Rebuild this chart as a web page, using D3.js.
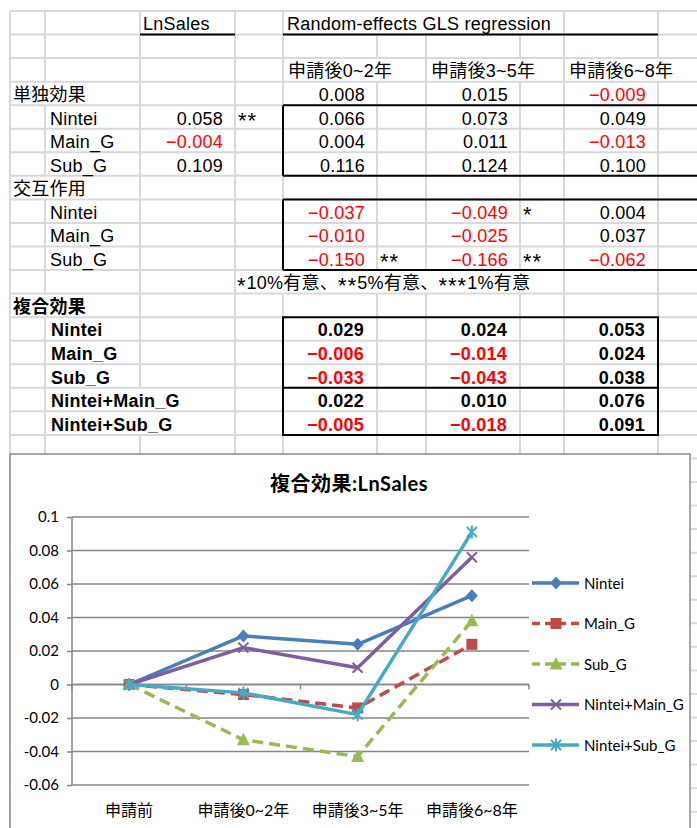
<!DOCTYPE html>
<html>
<head>
<meta charset="utf-8">
<script src="https://cdn.jsdelivr.net/npm/d3@7"></script>
<style>
  html, body { margin: 0; padding: 0; background: #fff; }
  svg { display: block; }
</style>
</head>
<body>
<svg id="sheet" width="697" height="828"></svg>
<script>
// ---------- values ----------
const periods = ["申請後0~2年", "申請後3~5年", "申請後6~8年"];
const chartCategories = ["申請前", ...periods];
const effectLabels = ["Nintei", "Main_G", "Sub_G"];
const lnSalesValues = [0.058, -0.004, 0.109];
const lnSalesStars = ["**", "", ""];
const baseValues = [0.008, 0.015, -0.009];
const singleValues = [
  [0.066, 0.073, 0.049],
  [0.004, 0.011, -0.013],
  [0.116, 0.124, 0.100]
];
const interactionValues = [
  [-0.037, -0.049, 0.004],
  [-0.010, -0.025, 0.037],
  [-0.150, -0.166, -0.062]
];
const interactionStars = [
  ["", "*", ""],
  ["", "", ""],
  ["**", "**", ""]
];
const compositeLabels = ["Nintei", "Main_G", "Sub_G", "Nintei+Main_G", "Nintei+Sub_G"];
const compositeValues = [
  [0.029, 0.024, 0.053],
  [-0.006, -0.014, 0.024],
  [-0.033, -0.043, 0.038],
  [0.022, 0.010, 0.076],
  [-0.005, -0.018, 0.091]
];
const beforeValue = 0;           // value at 申請前 for every series
const yTicks = [-0.06, -0.04, -0.02, 0, 0.02, 0.04, 0.06, 0.08, 0.1];
const noteText = "*10%有意、**5%有意、***1%有意";
const chartTitle = "複合効果:LnSales";

// ---------- sheet layout ----------
const W = 697, H = 828;
const colX = [10, 45, 140, 235, 283, 377, 426, 520, 564, 658, 760];
const rowTop0 = 11, rowH = 23.55, nRows = 36;
const rowY = i => rowTop0 + i * rowH;
const valueCols = [4, 6, 8];   // E, G, I
const starCols = [5, 7, 9];    // F, H, J

const svg = d3.select("#sheet");
svg.append("rect").attr("width", W).attr("height", H).attr("fill", "#fff");

const gridLayer = svg.append("g");
const textLayer = svg.append("g")
  .style("font-family", "'Liberation Sans', 'Noto Sans CJK JP', sans-serif")
  .style("font-size", "18px")
  .style("letter-spacing", "0.25px");
const borderLayer = svg.append("g");

const fmt = d3.format(".3f");
const valColor = v => v < 0 ? "#ff0000" : "#000000";
const leftTexts = []; // {row, node} for overflow handling

// asterisks sit mid-height in the sheet font, so runs of "*" are set lower and larger
function fillWithStars(t, str) {
  let shifted = false;
  str.split(/(\*+)/).forEach(p => {
    if (!p) return;
    const isStar = p[0] === "*";
    const ts = t.append("tspan").text(p);
    if (isStar && !shifted) { ts.attr("dy", 3.5); shifted = true; }
    else if (!isStar && shifted) { ts.attr("dy", -3.5); shifted = false; }
    if (isStar) ts.style("font-size", "22px").style("letter-spacing", "1px");
  });
}

function leftText(row, col, text, opts = {}) {
  const t = textLayer.append("text")
    .attr("x", colX[col] + (opts.pad ?? 4))
    .attr("y", rowY(row) + 19.3)
    .attr("fill", opts.color || "#000")
    .attr("font-weight", opts.bold ? "bold" : null);
  if (text.includes("*")) fillWithStars(t, text); else t.text(text);
  leftTexts.push({ row, node: t.node() });
  return t;
}
function numText(row, col, v, bold) {
  textLayer.append("text")
    .attr("x", colX[col + 1] - (bold ? 13 : 12))
    .attr("y", rowY(row) + 19.3)
    .attr("text-anchor", "end")
    .attr("fill", valColor(v))
    .attr("font-weight", bold ? "bold" : null)
    .text(fmt(v));
}

// row 0: titles
leftText(0, 2, "LnSales", { pad: 3 });
leftText(0, 4, "Random-effects GLS regression");
// row 2: period headers
periods.forEach((p, j) => leftText(2, valueCols[j], p, { pad: 5 }));
// row 3: 単独効果
leftText(3, 0, "単独効果", { pad: 3 });
baseValues.forEach((v, j) => numText(3, valueCols[j], v));
// rows 4-6
effectLabels.forEach((lab, i) => {
  const r = 4 + i;
  leftText(r, 1, lab, { pad: 5 });
  numText(r, 2, lnSalesValues[i]);
  if (lnSalesStars[i]) leftText(r, 3, lnSalesStars[i], { pad: 3 });
  singleValues[i].forEach((v, j) => numText(r, valueCols[j], v));
});
// row 7: 交互作用
leftText(7, 0, "交互作用", { pad: 3 });
// rows 8-10
effectLabels.forEach((lab, i) => {
  const r = 8 + i;
  leftText(r, 1, lab, { pad: 5 });
  interactionValues[i].forEach((v, j) => {
    numText(r, valueCols[j], v);
    if (interactionStars[i][j]) leftText(r, starCols[j], interactionStars[i][j], { pad: 3 });
  });
});
// row 11: significance note
leftText(11, 3, noteText, { pad: 2 });
// row 12: 複合効果
leftText(12, 0, "複合効果", { pad: 3, bold: true });
// rows 13-17
compositeLabels.forEach((lab, i) => {
  const r = 13 + i;
  leftText(r, 1, lab, { pad: 6, bold: true });
  compositeValues[i].forEach((v, j) => numText(r, valueCols[j], v, true));
});

// overflowing text hides the vertical gridlines it passes over
const hidden = new Set();
leftTexts.forEach(({ row, node }) => {
  const b = node.getBBox();
  colX.forEach((x, ci) => {
    if (x > b.x + 1 && x < b.x + b.width - 1) hidden.add(row + ":" + ci);
  });
});

// gridlines
const gridColor = "#d9d9d9";
for (let r = 0; r <= nRows; r++) {
  gridLayer.append("line")
    .attr("x1", colX[0]).attr("x2", W)
    .attr("y1", rowY(r)).attr("y2", rowY(r))
    .attr("stroke", gridColor).attr("stroke-width", 2);
}
for (let r = 0; r < nRows; r++) {
  colX.forEach((x, ci) => {
    if (hidden.has(r + ":" + ci)) return;
    gridLayer.append("line")
      .attr("x1", x).attr("x2", x)
      .attr("y1", rowY(r)).attr("y2", rowY(r + 1))
      .attr("stroke", gridColor).attr("stroke-width", 2);
  });
}

// cell borders
function bline(x1, y1, x2, y2) {
  borderLayer.append("line")
    .attr("x1", x1).attr("y1", y1).attr("x2", x2).attr("y2", y2)
    .attr("stroke", "#000").attr("stroke-width", 2);
}
bline(colX[2], rowY(1), colX[3], rowY(1));
bline(colX[4], rowY(1), colX[9], rowY(1));
// single-effect block
bline(colX[4], rowY(4), W, rowY(4));
bline(colX[4], rowY(7), W, rowY(7));
bline(colX[4], rowY(4), colX[4], rowY(7));
// interaction block
bline(colX[4], rowY(8), W, rowY(8));
bline(colX[4], rowY(11), W, rowY(11));
bline(colX[4], rowY(8), colX[4], rowY(11));
// composite block
bline(colX[4] - 1, rowY(13), colX[9] + 1, rowY(13));
bline(colX[4] - 1, rowY(18), colX[9] + 1, rowY(18));
bline(colX[4], rowY(16), colX[9], rowY(16));
bline(colX[4], rowY(13), colX[4], rowY(18));
bline(colX[9], rowY(13), colX[9], rowY(18));

// ---------- embedded chart ----------
const chart = svg.append("g")
  .style("font-family", "Lato, 'Noto Sans CJK JP', sans-serif");
chart.append("rect")
  .attr("x", 10).attr("y", 454).attr("width", 680).attr("height", 400)
  .attr("fill", "#fff").attr("stroke", "#8c8c8c").attr("stroke-width", 1.5);

chart.append("text")
  .attr("x", 349).attr("y", 491)
  .attr("text-anchor", "middle")
  .attr("font-size", 20).attr("font-weight", "bold")
  .style("letter-spacing", "0.5px")
  .text(chartTitle);

const plot = { left: 72, right: 529, top: 517, bottom: 785 };
const x = d3.scalePoint().domain(chartCategories).range([plot.left, plot.right]).padding(0.5);
const y = d3.scaleLinear().domain([-0.06, 0.1]).range([plot.bottom, plot.top]);
const axisColor = "#868686";

// horizontal gridlines
chart.append("g").selectAll("line").data(yTicks).join("line")
  .attr("x1", plot.left).attr("x2", plot.right)
  .attr("y1", d => y(d)).attr("y2", d => y(d))
  .attr("stroke", axisColor).attr("stroke-width", 1.5);

// value axis
const yAxis = chart.append("g")
  .attr("transform", `translate(${plot.left},0)`)
  .call(d3.axisLeft(y).tickValues(yTicks).tickSize(5).tickPadding(8).tickFormat(d => String(d)));
yAxis.select(".domain").attr("stroke", axisColor).attr("stroke-width", 1.5)
  .attr("d", `M0,${plot.top}V${plot.bottom}`);
yAxis.selectAll(".tick line").attr("stroke", axisColor).attr("stroke-width", 1.5);
yAxis.selectAll(".tick text")
  .attr("font-size", 15).attr("font-family", "Lato, sans-serif").attr("fill", "#000");

// category axis at zero
const zeroY = y(0);
chart.append("line")
  .attr("x1", plot.left).attr("x2", plot.right)
  .attr("y1", zeroY).attr("y2", zeroY)
  .attr("stroke", axisColor).attr("stroke-width", 1.5);
const step = x.step();
d3.range(chartCategories.length + 1).forEach(i => {
  const tx = plot.left + i * step;
  chart.append("line")
    .attr("x1", tx).attr("x2", tx).attr("y1", zeroY).attr("y2", zeroY + 5)
    .attr("stroke", axisColor).attr("stroke-width", 1.5);
});
chart.append("g").selectAll("text").data(chartCategories).join("text")
  .attr("x", d => x(d)).attr("y", 816)
  .attr("text-anchor", "middle").attr("font-size", 16)
  .text(d => d);

// series styling
const seriesStyles = [
  { color: "#4a7ebb", dash: null, marker: "diamond" },
  { color: "#be4b48", dash: "11,6", marker: "square" },
  { color: "#98b954", dash: "11,6", marker: "triangle" },
  { color: "#7d5fa0", dash: null, marker: "x" },
  { color: "#46aac5", dash: null, marker: "star" }
];

function drawMarker(g, kind, color, cx, cy) {
  const m = g.append("g").attr("transform", `translate(${cx},${cy})`);
  if (kind === "diamond") {
    m.append("path").attr("d", "M0,-6.5L6,0L0,6.5L-6,0Z").attr("fill", color);
  } else if (kind === "square") {
    m.append("rect").attr("x", -5.5).attr("y", -5.5).attr("width", 11).attr("height", 11).attr("fill", color);
  } else if (kind === "triangle") {
    m.append("path").attr("d", "M0,-7L6.5,5.5L-6.5,5.5Z").attr("fill", color);
  } else if (kind === "x" || kind === "star") {
    let d = "M-5,-5L5,5M5,-5L-5,5";
    if (kind === "star") d += "M0,-6.5L0,6.5";
    m.append("path").attr("d", d).attr("stroke", color).attr("stroke-width", 2).attr("fill", "none");
  }
}

const line = d3.line().x(d => x(d.cat)).y(d => y(d.v));
compositeLabels.forEach((name, i) => {
  const st = seriesStyles[i];
  const pts = chartCategories.map((cat, k) => ({ cat, v: k === 0 ? beforeValue : compositeValues[i][k - 1] }));
  const g = chart.append("g");
  g.append("path").datum(pts).attr("d", line)
    .attr("fill", "none").attr("stroke", st.color).attr("stroke-width", 3.5)
    .attr("stroke-linejoin", "round")
    .attr("stroke-dasharray", st.dash);
  pts.forEach(p => drawMarker(g, st.marker, st.color, x(p.cat), y(p.v)));
});

// legend
const legendX = 532, legendY0 = 583, legendStep = 40.5;
compositeLabels.forEach((name, i) => {
  const st = seriesStyles[i];
  const ly = legendY0 + i * legendStep;
  const g = chart.append("g");
  g.append("line").attr("x1", legendX).attr("x2", legendX + 47).attr("y1", ly).attr("y2", ly)
    .attr("stroke", st.color).attr("stroke-width", 3.5)
    .attr("stroke-dasharray", st.dash ? "8,5" : null);
  drawMarker(g, st.marker, st.color, legendX + 24, ly);
  g.append("text").attr("x", legendX + 52).attr("y", ly + 5.5)
    .attr("font-size", 15).text(name);
});
</script>
</body>
</html>
